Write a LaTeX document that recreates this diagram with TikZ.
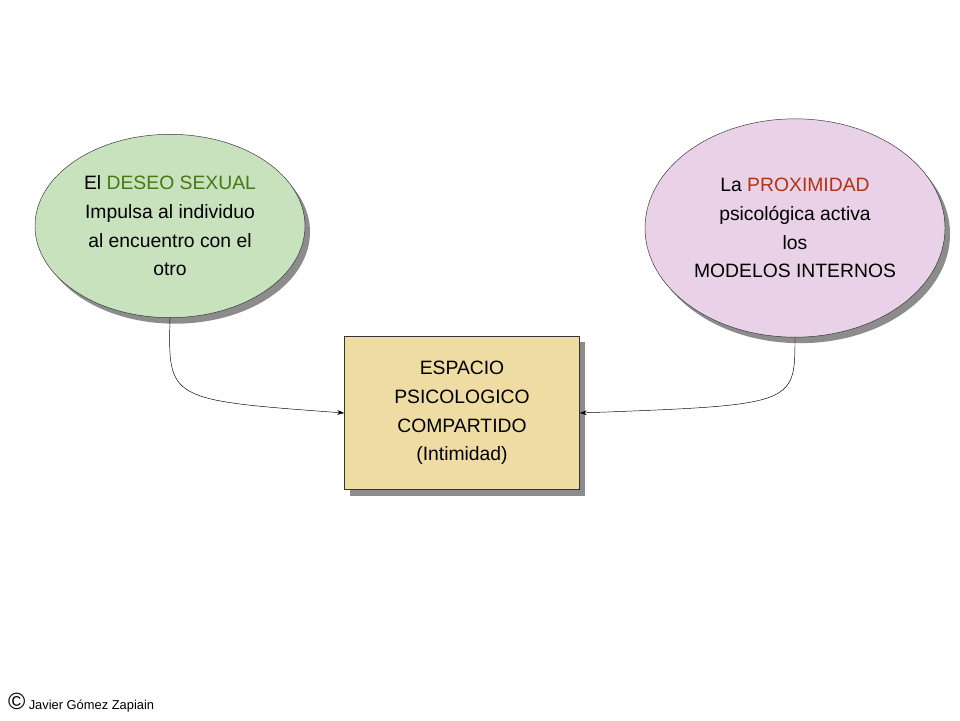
\documentclass[tikz,border=0pt]{standalone}
\usepackage{fontspec}
\setmainfont{Liberation Sans}
\usetikzlibrary{shapes.geometric,shadows,arrows.meta}
\definecolor{deseogreen}{RGB}{200,226,190}
\definecolor{proxpink}{RGB}{233,210,232}
\definecolor{espaciobeige}{RGB}{238,220,163}
\definecolor{deseotext}{RGB}{70,120,20}
\definecolor{proxtext}{RGB}{180,50,20}
\tikzset{
  bubble/.style={ellipse,draw=black!80,thin,align=center,
    font=\fontsize{16.5}{24.5}\selectfont,
    drop shadow={shadow xshift=0.15cm,shadow yshift=-0.18cm,fill=black!45,opacity=1}},
  spacebox/.style={rectangle,draw=black!80,thin,fill=espaciobeige,align=center,
    font=\fontsize{16.5}{24.5}\selectfont,
    drop shadow={shadow xshift=0.15cm,shadow yshift=-0.18cm,fill=black!45,opacity=1}},
  link/.style={-{Stealth[length=6pt,width=4pt]},thin,black}
}
\begin{document}
\begin{tikzpicture}[x=0.03cm,y=-0.03cm]
\useasboundingbox (0,0) rectangle (960,720);

\node [bubble,fill=deseogreen,minimum width=8.1cm,minimum height=5.5cm] (deseo) at (170,226)
  {El \textcolor{deseotext}{DESEO SEXUAL}\\Impulsa al individuo\\al encuentro con el\\otro};
\node [bubble,fill=proxpink,minimum width=9cm,minimum height=6.55cm,inner sep=0pt] (prox) at (795,228)
  {La \textcolor{proxtext}{PROXIMIDAD}\\psicológica activa\\los\\MODELOS INTERNOS};
\node [spacebox,minimum width=7.05cm,minimum height=4.6cm] (espacio) at (462,413)
  {ESPACIO\\PSICOLOGICO\\COMPARTIDO\\(Intimidad)};

\draw[link] (deseo.south) .. controls (168,400) .. (espacio.west);
\draw[link] (prox.south) .. controls (795,405) .. (espacio.east);

\node [anchor=west,inner sep=0pt] (autor) at (8,703)
  {{\fontsize{20}{20}\selectfont ©} \fontsize{11}{13}\selectfont Javier Gómez Zapiain};

\end{tikzpicture}
\end{document}
